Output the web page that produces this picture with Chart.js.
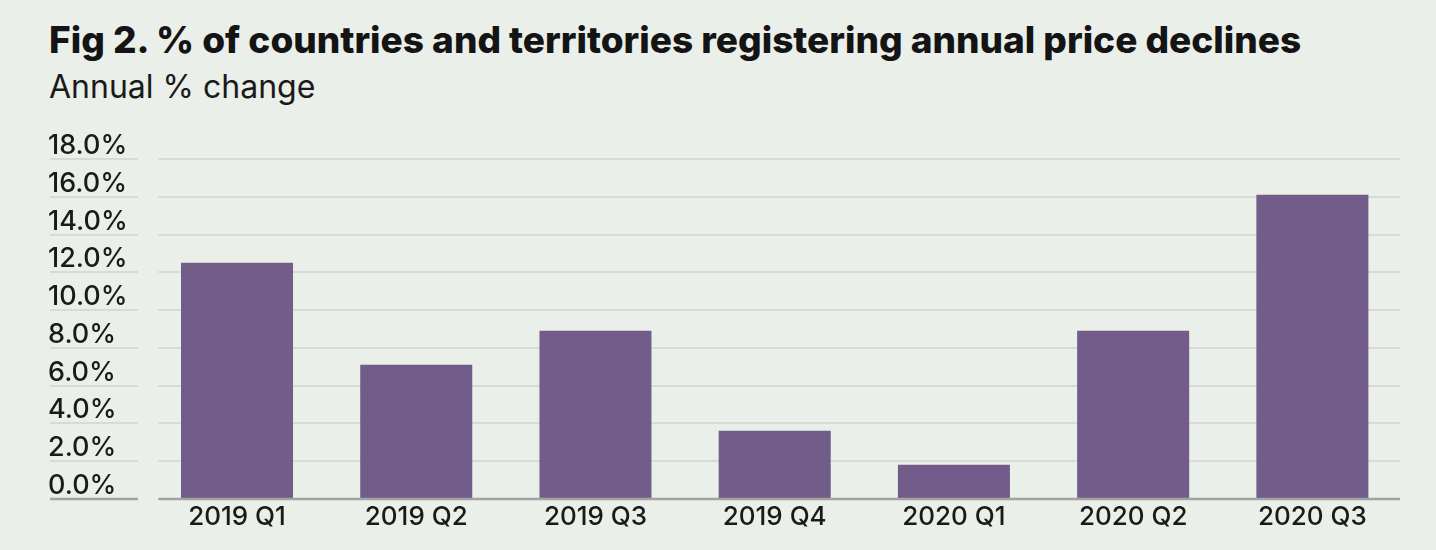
<!DOCTYPE html>
<html><head><meta charset="utf-8">
<script src="https://cdn.jsdelivr.net/npm/chart.js@4"></script>
<style>
html,body{margin:0;padding:0;background:#eaefe9;}
#wrap{position:relative;width:1436px;height:550px;overflow:hidden;background:#eaefe9;}
#title{position:absolute;left:49px;top:18px;font-family:Inter,sans-serif;font-weight:800;font-size:37px;color:#141414;letter-spacing:0px;white-space:nowrap;line-height:1.2;}
#sub{position:absolute;left:49px;top:68px;font-family:Inter,sans-serif;font-weight:400;font-size:32px;color:#1a1a1a;white-space:nowrap;line-height:1.2;}
canvas{position:absolute;left:0;top:0;}
</style></head>
<body><div id="wrap">
<div id="title">Fig 2. % of countries and territories registering annual price declines</div>
<div id="sub">Annual % change</div>
<canvas id="c" width="1436" height="550"></canvas>
</div>
<script>
const categories = ['2019 Q1','2019 Q2','2019 Q3','2019 Q4','2020 Q1','2020 Q2','2020 Q3'];
const declineShare = [12.5, 7.1, 8.9, 3.6, 1.8, 8.9, 16.1];
const yTicks = [0,2,4,6,8,10,12,14,16,18];

const gridPlugin = {
  id:'customGrid',
  beforeDatasetsDraw(chart){ drawLines(chart,false); },
  afterDatasetsDraw(chart){ drawLines(chart,true); }
};
function drawLines(chart, baseOnly){
  const y = chart.scales.y, ctx = chart.ctx, ca = chart.chartArea;
  ctx.save();
  yTicks.forEach(v=>{
    const isBase = v===0;
    if (isBase !== baseOnly) return;
    const py = Math.round(y.getPixelForValue(v));
    ctx.strokeStyle = isBase ? '#a3a4a2' : '#d1d4d0';
    ctx.lineWidth = isBase ? 2.5 : 1.5;
    ctx.beginPath();
    ctx.moveTo(y.left+2, py); ctx.lineTo(y.left+90, py);
    ctx.moveTo(ca.left+11, py); ctx.lineTo(ca.right-2, py);
    ctx.stroke();
  });
  ctx.restore();
}

new Chart(document.getElementById('c'), {
  type:'bar',
  data:{ labels:categories, datasets:[{ data:declineShare, backgroundColor:'#715c8a', borderWidth:0, barPercentage:0.625, categoryPercentage:1 }]},
  options:{
    responsive:false, animation:false,
    layout:{ padding:{ left:48, right:34, top:159, bottom:14 } },
    plugins:{ legend:{display:false}, tooltip:{enabled:false}, title:{display:false} },
    scales:{
      x:{ grid:{display:false, drawTicks:false}, border:{display:false},
          ticks:{ color:'#1a1a1a', font:{family:'Inter', size:26, weight:500}, padding:3, maxRotation:0 } },
      y:{ min:0, max:18, grid:{display:false, drawTicks:false}, border:{display:false},
          afterFit(s){ s.width = 99.4; },
          afterBuildTicks(s){ s.ticks = yTicks.map(v=>({value:v})); },
          ticks:{ stepSize:2, crossAlign:'far', labelOffset:-13, color:'#1a1a1a', font:{family:'Inter', size:27, weight:500},
                  callback:v=>Number(v).toFixed(1)+'%' } }
    }
  },
  plugins:[gridPlugin]
});
</script>
</body></html>
